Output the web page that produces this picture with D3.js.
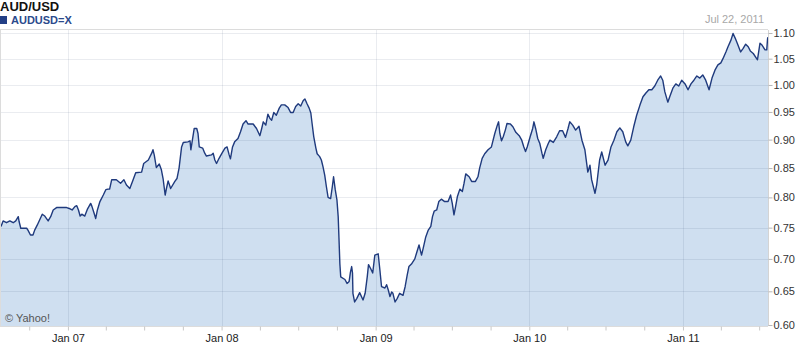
<!DOCTYPE html>
<html>
<head>
<meta charset="utf-8">
<script src="https://cdn.jsdelivr.net/npm/d3@7"></script>
<style>
  body { margin: 0; background: #fff; }
  svg { display: block; font-family: Arial, "Liberation Sans", sans-serif; }
  .axis text { font-size: 11px; }
</style>
</head>
<body>
<div id="chart"></div>
<script>
// AUD/USD weekly-ish closes
var dates = [
  "2006-07-26","2006-07-31","2006-08-08","2006-08-16","2006-08-24","2006-08-30","2006-09-05","2006-09-07","2006-09-11","2006-09-25",
  "2006-09-28","2006-10-04","2006-10-10","2006-10-14","2006-10-20","2006-10-26","2006-11-01","2006-11-07","2006-11-15","2006-11-21",
  "2006-11-27","2006-12-05","2006-12-29","2007-01-06","2007-01-11","2007-01-18","2007-01-22","2007-01-26","2007-01-30","2007-02-03",
  "2007-02-10","2007-02-16","2007-02-24","2007-02-27","2007-03-04","2007-03-08","2007-03-12","2007-03-18","2007-03-26","2007-04-01",
  "2007-04-06","2007-04-10","2007-04-15","2007-04-26","2007-05-06","2007-05-14","2007-05-20","2007-05-28","2007-06-04","2007-06-11",
  "2007-06-25","2007-06-30","2007-07-11","2007-07-19","2007-07-22","2007-07-25","2007-07-30","2007-08-06","2007-08-11","2007-08-15",
  "2007-08-20","2007-08-23","2007-08-27","2007-09-02","2007-09-12","2007-09-17","2007-09-22","2007-09-28","2007-10-02","2007-10-13",
  "2007-10-18","2007-10-20","2007-10-24","2007-10-28","2007-11-03","2007-11-06","2007-11-09","2007-11-17","2007-11-22","2007-11-26",
  "2007-12-08","2007-12-12","2007-12-16","2007-12-20","2007-12-26","2008-01-02","2008-01-09","2008-01-14","2008-01-19","2008-01-22",
  "2008-01-27","2008-02-01","2008-02-09","2008-02-15","2008-02-21","2008-02-28","2008-03-04","2008-03-16","2008-03-24","2008-04-01",
  "2008-04-05","2008-04-09","2008-04-15","2008-04-20","2008-04-25","2008-04-29","2008-05-04","2008-05-10","2008-05-17","2008-05-22",
  "2008-05-30","2008-06-07","2008-06-13","2008-06-19","2008-06-25","2008-07-01","2008-07-07","2008-07-13","2008-07-17","2008-07-22",
  "2008-07-27","2008-07-31","2008-08-03","2008-08-07","2008-08-12","2008-08-15","2008-08-21","2008-08-25","2008-08-29","2008-09-02",
  "2008-09-06","2008-09-10","2008-09-16","2008-09-20","2008-09-23","2008-09-27","2008-10-01","2008-10-04","2008-10-06","2008-10-08",
  "2008-10-10","2008-10-20","2008-10-25","2008-10-30","2008-11-02","2008-11-05","2008-11-07","2008-11-08","2008-11-12","2008-11-17",
  "2008-11-24","2008-12-02","2008-12-07","2008-12-12","2008-12-15","2008-12-20","2008-12-25","2008-12-30","2009-01-07","2009-01-11",
  "2009-01-15","2009-01-23","2009-01-27","2009-01-31","2009-02-04","2009-02-08","2009-02-11","2009-02-16","2009-02-21","2009-02-27",
  "2009-03-07","2009-03-12","2009-03-17","2009-03-21","2009-03-27","2009-04-04","2009-04-08","2009-04-14","2009-04-20","2009-04-24",
  "2009-04-30","2009-05-06","2009-05-12","2009-05-16","2009-05-20","2009-05-26","2009-05-31","2009-06-06","2009-06-14","2009-06-22",
  "2009-06-28","2009-07-02","2009-07-06","2009-07-10","2009-07-14","2009-07-20","2009-07-26","2009-07-30","2009-08-03","2009-08-11",
  "2009-08-17","2009-08-26","2009-09-01","2009-09-05","2009-09-11","2009-09-17","2009-09-25","2009-10-03","2009-10-07","2009-10-11",
  "2009-10-17","2009-10-20","2009-10-23","2009-10-27","2009-10-31","2009-11-05","2009-11-09","2009-11-17","2009-11-23","2009-11-30",
  "2009-12-08","2009-12-14","2009-12-19","2009-12-23","2009-12-27","2010-01-03","2010-01-09","2010-01-12","2010-01-16","2010-01-21",
  "2010-01-26","2010-01-31","2010-02-03","2010-02-09","2010-02-15","2010-02-19","2010-02-27","2010-03-07","2010-03-14","2010-03-21",
  "2010-03-28","2010-04-03","2010-04-07","2010-04-14","2010-04-21","2010-04-29","2010-05-06","2010-05-13","2010-05-20","2010-05-25",
  "2010-05-29","2010-06-06","2010-06-10","2010-06-17","2010-06-22","2010-06-30","2010-07-07","2010-07-14","2010-07-21","2010-07-28",
  "2010-08-04","2010-08-11","2010-08-18","2010-08-23","2010-08-30","2010-09-06","2010-09-13","2010-09-21","2010-09-28","2010-10-05",
  "2010-10-12","2010-10-19","2010-10-26","2010-11-02","2010-11-09","2010-11-14","2010-11-19","2010-11-26","2010-12-01","2010-12-08",
  "2010-12-15","2010-12-22","2010-12-29","2011-01-06","2011-01-13","2011-01-20","2011-01-27","2011-02-03","2011-02-10","2011-02-17",
  "2011-02-24","2011-03-04","2011-03-11","2011-03-18","2011-03-25","2011-04-01","2011-04-06","2011-04-13","2011-04-18","2011-04-25",
  "2011-04-30","2011-05-05","2011-05-10","2011-05-18","2011-05-24","2011-05-30","2011-06-05","2011-06-10","2011-06-17","2011-06-25",
  "2011-06-27","2011-07-03","2011-07-07","2011-07-15","2011-07-19","2011-07-21","2011-07-22"
]

var rates = [
  0.752,0.761,0.758,0.761,0.758,0.761,0.768,0.760,0.749,0.749,
  0.746,0.738,0.738,0.746,0.754,0.763,0.772,0.769,0.761,0.768,
  0.779,0.783,0.783,0.781,0.779,0.785,0.786,0.779,0.769,0.772,
  0.769,0.780,0.790,0.785,0.774,0.765,0.779,0.793,0.804,0.813,
  0.814,0.814,0.830,0.830,0.824,0.830,0.821,0.815,0.828,0.842,
  0.843,0.858,0.864,0.876,0.882,0.873,0.851,0.857,0.847,0.832,
  0.804,0.815,0.828,0.815,0.827,0.832,0.850,0.887,0.895,0.896,
  0.898,0.882,0.901,0.920,0.920,0.911,0.887,0.885,0.876,0.871,
  0.873,0.876,0.864,0.858,0.867,0.876,0.885,0.887,0.873,0.866,
  0.887,0.896,0.902,0.914,0.928,0.934,0.928,0.928,0.920,0.907,
  0.919,0.932,0.926,0.946,0.938,0.935,0.949,0.944,0.957,0.963,
  0.963,0.958,0.949,0.949,0.960,0.965,0.961,0.971,0.974,0.965,
  0.957,0.948,0.929,0.905,0.885,0.875,0.870,0.864,0.852,0.838,
  0.818,0.800,0.798,0.818,0.835,0.813,0.796,0.768,0.730,0.692,
  0.672,0.668,0.662,0.665,0.679,0.688,0.678,0.647,0.634,0.639,
  0.648,0.637,0.647,0.672,0.691,0.685,0.678,0.706,0.708,0.683,
  0.657,0.655,0.660,0.652,0.642,0.649,0.647,0.634,0.639,0.647,
  0.644,0.657,0.675,0.688,0.692,0.700,0.709,0.722,0.706,0.717,
  0.735,0.746,0.752,0.768,0.777,0.779,0.793,0.797,0.793,0.793,
  0.804,0.790,0.771,0.785,0.801,0.814,0.810,0.824,0.840,0.835,
  0.827,0.827,0.835,0.850,0.867,0.875,0.882,0.887,0.899,0.911,
  0.926,0.932,0.911,0.898,0.905,0.917,0.929,0.928,0.923,0.913,
  0.907,0.899,0.887,0.879,0.887,0.905,0.920,0.932,0.920,0.902,
  0.893,0.876,0.867,0.882,0.893,0.899,0.895,0.905,0.916,0.916,
  0.904,0.920,0.932,0.926,0.917,0.924,0.899,0.882,0.843,0.855,
  0.830,0.807,0.821,0.864,0.878,0.855,0.864,0.887,0.899,0.914,
  0.921,0.914,0.896,0.889,0.899,0.923,0.944,0.963,0.978,0.985,
  0.991,0.991,0.998,1.009,1.017,1.009,0.987,0.968,0.979,0.994,
  1.002,0.998,1.009,1.002,0.991,1.002,1.009,1.017,1.013,1.019,
  1.009,0.991,1.013,1.028,1.038,1.042,1.050,1.063,1.073,1.086,
  1.099,1.090,1.080,1.063,1.070,1.078,1.073,1.065,1.060,1.050,
  1.048,1.080,1.077,1.067,1.067,1.089,1.092
]

var yTicks = [0.60,0.65,0.70,0.75,0.80,0.85,0.90,0.95,1.00,1.05,1.10]
var janDates = ["2007-01-01","2008-01-01","2009-01-01","2010-01-01","2011-01-01"]
var xLabels = ["Jan 07","Jan 08","Jan 09","Jan 10","Jan 11"]
var dateRange = ["2006-07-26","2011-07-22"]

var W = 797, H = 352
var plot = {left: 1, right: 768, top: 30, bottom: 326}

var parse = d3.timeParse("%Y-%m-%d")
var data = dates.map(function(d,i){ return {date: parse(d), v: rates[i]} })

var x = d3.scaleTime()
          .domain(dateRange.map(parse))
          .range([plot.left, plot.right])

var y = d3.scaleSqrt()
          .domain([0.60,1.10])
          .range([325,33])

var svg = d3.select('#chart')
            .append('svg')
            .attr('width',W)
            .attr('height',H)

svg.append('rect').attr('width',W).attr('height',H).style('fill','#fff')

// filled area under the line
var area = d3.area()
             .x(function(d){return x(d.date)})
             .y0(plot.bottom)
             .y1(function(d){return y(d.v)})

svg.append('path')
   .datum(data)
   .attr('d',area)
   .style('fill','#cfdff0')

// grid
svg.selectAll('.hgrid')
   .data(yTicks.slice(1))
   .enter()
   .append('line')
   .attr('class','hgrid')
   .attr('x1',plot.left).attr('x2',plot.right)
   .attr('y1',function(d){return Math.round(y(d))+0.5})
   .attr('y2',function(d){return Math.round(y(d))+0.5})
   .style('stroke','rgba(50,70,110,0.1)')

svg.selectAll('.vgrid')
   .data(janDates)
   .enter()
   .append('line')
   .attr('class','vgrid')
   .attr('x1',function(d){return Math.round(x(parse(d)))+0.5})
   .attr('x2',function(d){return Math.round(x(parse(d)))+0.5})
   .attr('y1',plot.top).attr('y2',plot.bottom)
   .style('stroke','rgba(50,70,110,0.1)')

// the rate line
var line = d3.line()
             .x(function(d){return x(d.date)})
             .y(function(d){return y(d.v)})

svg.append('path')
   .datum(data)
   .attr('d',line)
   .style('fill','none')
   .style('stroke','#1f3a7d')
   .style('stroke-width',1.4)
   .style('stroke-linejoin','round')

// frame
svg.append('line').attr('x1',0).attr('x2',plot.right).attr('y1',plot.top-0.5).attr('y2',plot.top-0.5).style('stroke','#dcdcdc')
svg.append('line').attr('x1',0.5).attr('x2',0.5).attr('y1',plot.top).attr('y2',plot.bottom).style('stroke','#dcdcdc')

// right axis
var yAxis = d3.axisRight(y)
              .tickValues(yTicks)
              .tickSize(4)
              .tickPadding(1)
              .tickFormat(d3.format('.2f'))

var gy = svg.append('g')
   .attr('class','axis')
   .attr('transform','translate('+(plot.right+0.5)+',0)')
   .call(yAxis)
gy.select('.domain').attr('d','M0,'+plot.top+'V'+plot.bottom).style('stroke','#d4d4d4')
gy.selectAll('.tick line').style('stroke','#b8b8b8')
gy.selectAll('text').style('fill','#333').style('font-family','Arial, "Liberation Sans", sans-serif')

// bottom axis, quarterly ticks, labels on Jan
var quarters = d3.timeMonth.every(3).range(x.domain()[0], x.domain()[1])
var xAxis = d3.axisBottom(x)
              .tickValues(quarters)
              .tickSize(4)
              .tickPadding(4)
              .tickFormat(function(d){
                 var i = janDates.indexOf(d3.timeFormat('%Y-%m-%d')(d))
                 return i >= 0 ? xLabels[i] : ''
              })

var gx = svg.append('g')
   .attr('class','axis')
   .attr('transform','translate(0,'+(plot.bottom+0.5)+')')
   .call(xAxis)
gx.select('.domain').attr('d','M0,0H'+plot.right).style('stroke','#dcdcdc')
gx.selectAll('.tick line').style('stroke','#c8c8c8')
gx.selectAll('text').style('fill','#222').style('font-family','Arial, "Liberation Sans", sans-serif')

// titles
svg.append('text')
   .attr('x',0).attr('y',11)
   .style('font-size','13px').style('font-weight','bold').style('fill','#111')
   .text('AUD/USD')

svg.append('rect')
   .attr('x',0).attr('y',16).attr('width',7).attr('height',8)
   .style('fill','#233f86')

svg.append('text')
   .attr('x',11).attr('y',24)
   .style('font-size','11px').style('font-weight','bold').style('fill','#2b4a8c')
   .text('AUDUSD=X')

svg.append('text')
   .attr('x',764).attr('y',23)
   .attr('text-anchor','end')
   .style('font-size','11px').style('fill','#a8a8a8')
   .text('Jul 22, 2011')

svg.append('text')
   .attr('x',5).attr('y',322)
   .style('font-size','11px').style('fill','#555')
   .text('\u00a9 Yahoo!')
</script>
</body>
</html>
